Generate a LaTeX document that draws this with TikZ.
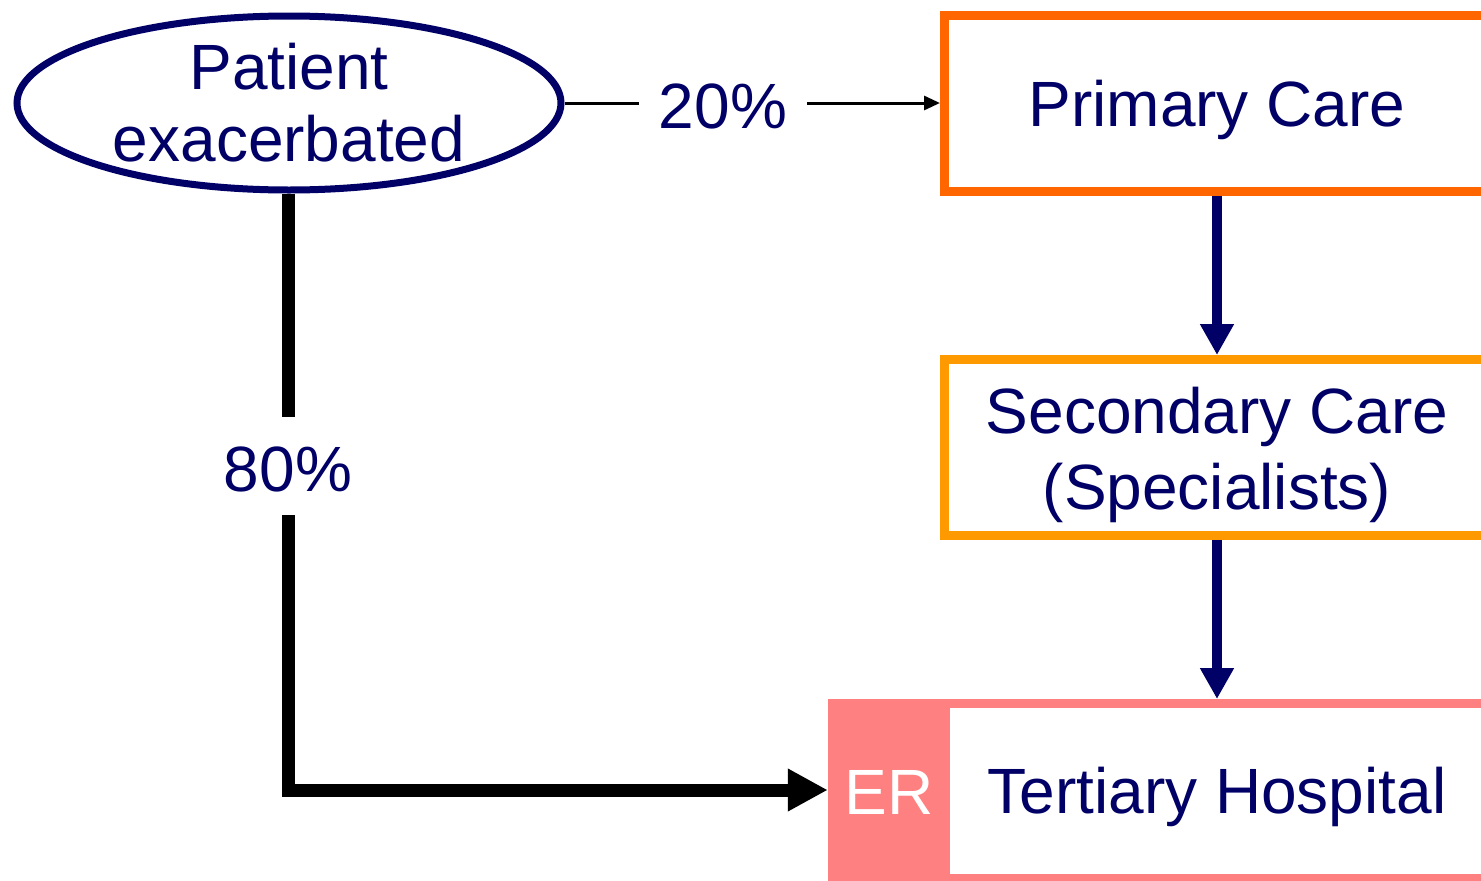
\documentclass[tikz,border=0pt]{standalone}
\usepackage{fontspec}
\setmainfont{Liberation Sans}
\usetikzlibrary{shapes.geometric,arrows.meta}
\definecolor{navy}{RGB}{0,0,102}
\definecolor{orangeA}{RGB}{255,102,0}
\definecolor{orangeB}{RGB}{255,153,0}
\definecolor{pinkER}{RGB}{255,128,128}
\newcommand{\twoline}[3]{\vbox{\baselineskip=#1pt\lineskiplimit=-100pt\halign{\hfil##\hfil\cr #2\cr #3\cr}}}
\tikzset{
  txt/.style={text=navy, font=\fontsize{64}{75}\selectfont},
  carebox/.style={txt, rectangle, line width=9pt, minimum width=545pt, minimum height=176pt, inner sep=0pt, fill=white, text depth=0pt},
  pct/.style={txt, text depth=0pt},
  navyarrow/.style={draw=navy, line width=10.6pt, -{Triangle[width=32pt,length=31pt]}},
  thinline/.style={draw=black, line width=3pt},
  thickline/.style={draw=black, line width=13pt},
}
\begin{document}
\begin{tikzpicture}[x=1pt,y=-1pt]
\useasboundingbox (0,0) rectangle (1481,881);
\clip (0,0) rectangle (1481,881);
\fill[white] (0,0) rectangle (1481,881);

\node[txt, ellipse, draw=navy, line width=7pt, minimum width=544pt, minimum height=174pt, inner sep=0pt, text height=116pt, text depth=0pt] (patient) at (289,103) {\twoline{72}{Patient}{exacerbated}};

\node[carebox, draw=orangeA, text height=46.4pt] (primary) at (1217,103.5) {Primary Care};
\node[carebox, draw=orangeB, text height=123.6pt] (secondary) at (1217,447.5) {\twoline{76}{Secondary Care}{(Specialists)}};
\node[carebox, draw=pinkER, minimum width=769pt, minimum height=175pt, text height=45pt] (tertiary) at (1217,791) {Tertiary Hospital};
\node[rectangle, fill=pinkER, minimum width=122pt, minimum height=182pt, inner sep=0pt, text=white, font=\fontsize{64}{75}\selectfont, text height=48pt, text depth=0pt] (er) at (889,790) {ER};

\node[pct, inner xsep=20pt, inner ysep=0pt, text height=50.6pt] (p20) at (723,103) {20\%};
\node[pct, inner xsep=0pt, inner ysep=24pt, text height=50pt] (p80) at (288,466) {80\%};

\draw[thinline] (patient.east) -- (p20.west |- patient.east);
\draw[thinline, -{Triangle[width=14pt,length=16pt]}] (p20.east |- patient.east) -- (primary.west |- patient.east);

\draw[navyarrow] (primary.south) -- (secondary.north);
\draw[navyarrow] (secondary.south) -- (tertiary.north);

\draw[thickline] (patient.south -| p80.north) -- (p80.north);
\draw[thickline, -{Triangle[width=40pt,length=40pt]}] (p80.south) |- (er.west);
\end{tikzpicture}
\end{document}
